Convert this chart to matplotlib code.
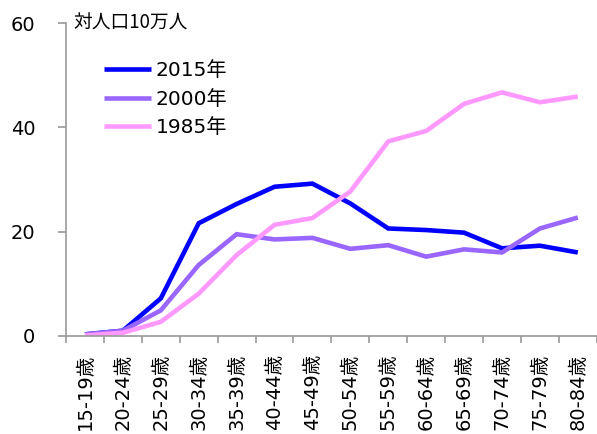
import matplotlib
matplotlib.use("Agg")
import matplotlib.pyplot as plt
import numpy as np

plt.rcParams['font.family'] = ['DejaVu Sans', 'Noto Sans CJK JP']

categories = ["15-19歳", "20-24歳", "25-29歳", "30-34歳", "35-39歳", "40-44歳", "45-49歳",
              "50-54歳", "55-59歳", "60-64歳", "65-69歳", "70-74歳", "75-79歳", "80-84歳"]
s2015 = [0.3, 1.0, 7.2, 21.6, 25.3, 28.6, 29.2, 25.4, 20.6, 20.3, 19.8, 16.8, 17.3, 16.0]
s2000 = [0.3, 1.0, 4.9, 13.6, 19.5, 18.5, 18.8, 16.7, 17.4, 15.2, 16.6, 16.0, 20.6, 22.7]
s1985 = [0.1, 0.6, 2.7, 8.1, 15.5, 21.3, 22.6, 27.7, 37.3, 39.3, 44.5, 46.7, 44.8, 45.9]
series_labels = ["2015年", "2000年", "1985年"]
colors = ["#0000FF", "#9966FF", "#FF99FF"]
yticks = [0, 20, 40, 60]
unit_label = "対人口10万人"

fig = plt.figure(figsize=(5.97, 4.34), dpi=100)
ax = fig.add_axes([0.1106, 0.226, 0.889, 0.721])

x = np.arange(len(categories))
for vals, lab, c in zip([s2015, s2000, s1985], series_labels, colors):
    ax.plot(x, vals, color=c, lw=3.3, label=lab, solid_joinstyle='miter', solid_capstyle='butt')

ax.set_xlim(-0.5, len(categories) - 0.5)
ax.set_ylim(0, 60)
ax.set_yticks(yticks)
ax.set_yticklabels([str(v) for v in yticks], fontsize=14)
ax.set_xticks(x)
ax.set_xticklabels(categories, rotation=90, fontsize=14)
ax.set_xticks(np.arange(len(categories) + 1) - 0.5, minor=True)

for s in ['top', 'right']:
    ax.spines[s].set_visible(False)
for s in ['left', 'bottom']:
    ax.spines[s].set_color('#999999')
    ax.spines[s].set_linewidth(1.2)

ax.tick_params(axis='y', length=6, width=1.2, color='#999999', pad=16)
ax.tick_params(axis='x', which='major', length=0, pad=13)
ax.tick_params(axis='x', which='minor', length=5, width=1.2, color='#999999')

ax.text(0.013, 1.0, unit_label, transform=ax.transAxes, fontsize=13.5,
        va='center', ha='left', family=['Noto Sans CJK JP', 'DejaVu Sans'])

leg = ax.legend(loc='upper left', bbox_to_anchor=(0.072, 0.877), frameon=False,
                fontsize=14.5, handlelength=2.3, handletextpad=0.25, labelspacing=0.45,
                borderaxespad=0, borderpad=0)

fig.savefig("out.png", dpi=100)
